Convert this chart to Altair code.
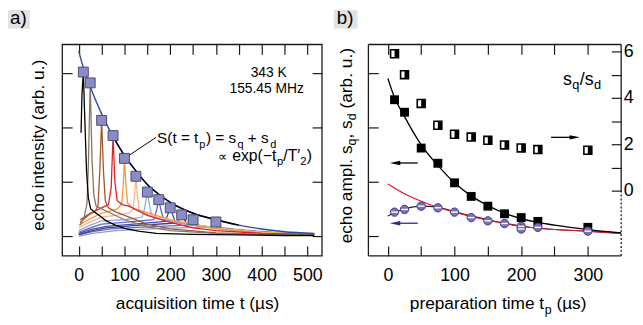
import altair as alt
import pandas as pd

FONT = "Liberation Sans"
W, H = 635, 309
OX, OY = 8, 8


def px(x):
    return x - OX


def py(y):
    return y - OY


# ---------------- panel a: echo curves ----------------
tp_a = [10, 25, 50, 75, 100, 125, 150, 175, 200, 225, 250, 300]
s_a = [3.02, 2.82, 2.13, 1.85, 1.43, 1.10, 0.81, 0.67, 0.52, 0.39, 0.30, 0.26]

fit_a_t = [0, 10, 25, 50, 75, 100, 125, 150, 175, 200, 250, 300, 350, 400, 450, 515]
fit_a_v = [3.40, 3.10, 2.75, 2.25, 1.83, 1.48, 1.20, 0.95, 0.77, 0.62, 0.42, 0.30, 0.20, 0.13, 0.08, 0.05]

echo10_t = [5, 7, 10, 13, 17, 21, 26, 35, 45, 60, 80, 100, 130, 170, 250, 350, 450, 515]
echo10_v = [1.9, 2.6, 3.02, 2.2, 1.2, 0.7, 0.5, 0.44, 0.38, 0.28, 0.2, 0.14, 0.09, 0.05, 0.03, 0.02, 0.01, 0.01]
echo25_t = [3, 12, 18, 21, 25, 29, 33, 38, 50, 70, 100, 150, 200, 300, 400, 515]
echo25_v = [0.20, 0.35, 0.6, 1.3, 2.82, 1.4, 0.75, 0.55, 0.5, 0.42, 0.3, 0.17, 0.1, 0.05, 0.03, 0.02]
echo50_t = [3, 20, 35, 42, 46, 50, 54, 58, 65, 80, 100, 150, 200, 300, 400, 515]
echo50_v = [0.25, 0.38, 0.45, 0.55, 1.2, 2.13, 1.2, 0.65, 0.52, 0.45, 0.38, 0.22, 0.13, 0.06, 0.03, 0.02]
echo75_t = [3, 25, 50, 65, 71, 75, 79, 84, 95, 110, 150, 200, 250, 300, 400, 515]
echo75_v = [0.30, 0.42, 0.52, 0.58, 0.9, 1.85, 1.0, 0.65, 0.58, 0.55, 0.38, 0.25, 0.15, 0.1, 0.05, 0.03]
echo100_t = [0, 25, 50, 85, 94, 97, 100, 103, 107, 120, 150, 200, 250, 300, 400, 515]
echo100_v = [0.2, 0.32, 0.42, 0.5, 0.6, 0.9, 1.43, 0.95, 0.6, 0.5, 0.43, 0.3, 0.2, 0.13, 0.06, 0.03]
echo125_t = [0, 25, 50, 80, 110, 119, 122, 125, 128, 132, 150, 200, 250, 300, 400, 515]
echo125_v = [0.15, 0.26, 0.35, 0.38, 0.42, 0.5, 0.75, 1.10, 0.75, 0.48, 0.4, 0.3, 0.22, 0.15, 0.07, 0.04]
echo150_t = [0, 25, 50, 100, 139, 145, 150, 155, 161, 200, 250, 300, 400, 515]
echo150_v = [0.1, 0.2, 0.28, 0.3, 0.35, 0.55, 0.81, 0.55, 0.35, 0.27, 0.2, 0.14, 0.07, 0.03]
echo175_t = [0, 25, 50, 100, 164, 170, 175, 180, 186, 225, 300, 400, 515]
echo175_v = [0.07, 0.15, 0.22, 0.25, 0.3, 0.47, 0.67, 0.47, 0.3, 0.24, 0.15, 0.07, 0.03]
echo200_t = [0, 25, 60, 120, 189, 195, 200, 205, 211, 250, 300, 400, 515]
echo200_v = [0.05, 0.12, 0.18, 0.22, 0.27, 0.4, 0.52, 0.4, 0.26, 0.2, 0.14, 0.07, 0.03]
echo225_t = [0, 30, 60, 120, 214, 220, 225, 230, 236, 300, 400, 515]
echo225_v = [0.03, 0.1, 0.15, 0.19, 0.24, 0.32, 0.39, 0.32, 0.23, 0.15, 0.07, 0.03]
echo250_t = [0, 30, 70, 150, 239, 245, 250, 255, 261, 320, 400, 515]
echo250_v = [0.02, 0.08, 0.13, 0.17, 0.2, 0.26, 0.30, 0.26, 0.19, 0.13, 0.07, 0.03]
echo300_t = [0, 30, 80, 180, 289, 295, 300, 305, 311, 350, 420, 515]
echo300_v = [0.0, 0.05, 0.1, 0.14, 0.17, 0.22, 0.26, 0.21, 0.16, 0.12, 0.07, 0.03]

echo_t = [echo10_t, echo25_t, echo50_t, echo75_t, echo100_t, echo125_t,
          echo150_t, echo175_t, echo200_t, echo225_t, echo250_t, echo300_t]
echo_v = [echo10_v, echo25_v, echo50_v, echo75_v, echo100_v, echo125_v,
          echo150_v, echo175_v, echo200_v, echo225_v, echo250_v, echo300_v]
echo_colors = ["#000000", "#8a7560", "#a0582e", "#e3202a", "#f29a3e", "#f6b888",
               "#9ea4da", "#5b6bbb", "#3f50a6", "#4b3c80", "#6070bd", "#8f9ad6"]

# ---------------- panel b ----------------
tp_b = [10, 25, 50, 75, 100, 125, 150, 175, 200, 225, 300]
sq_b = [2.51, 2.28, 1.62, 1.34, 0.98, 0.73, 0.55, 0.41, 0.34, 0.27, 0.16]
ratio_b = [5.9, 5.0, 3.76, 2.82, 2.43, 2.31, 2.17, 1.97, 1.84, 1.77, 1.74]
tp_d = [10, 25, 50, 75, 100, 125, 150, 175, 200, 200, 225, 300]
sd_b = [0.44, 0.49, 0.55, 0.52, 0.44, 0.34, 0.28, 0.23, 0.18, 0.13, 0.16, 0.09]

fit_q_t = [0, 10, 25, 50, 75, 100, 125, 150, 175, 200, 225, 250, 300, 350]
fit_q_v = [2.90, 2.55, 2.20, 1.68, 1.30, 0.98, 0.74, 0.56, 0.42, 0.32, 0.25, 0.20, 0.12, 0.06]
fit_d_t = [0, 10, 25, 50, 75, 100, 125, 150, 200, 250, 300, 350]
fit_d_v = [0.37, 0.43, 0.50, 0.55, 0.53, 0.45, 0.37, 0.30, 0.18, 0.12, 0.09, 0.05]
fit_r_t = [0, 25, 50, 75, 100, 125, 150, 175, 200, 250, 300, 350]
fit_r_v = [0.96, 0.78, 0.64, 0.53, 0.44, 0.36, 0.29, 0.23, 0.18, 0.12, 0.09, 0.05]

# ---------------- ticks ----------------
xa_ticks = [0, 50, 100, 150, 200, 250, 300, 350, 400, 450, 500]
xb_ticks = [0, 50, 100, 150, 200, 250, 300]
y_ticks = [0, 1, 2, 3]
r_ticks = [0, 1, 2, 3, 4, 5, 6]

xa_sc = alt.Scale(domain=[-36, 532], range=[px(63), px(326)], nice=False, zero=False)
ya_sc = alt.Scale(domain=[-0.364, 3.527], range=[py(257), py(43)], nice=False, zero=False)
xb_sc = alt.Scale(domain=[-29.2, 350], range=[px(373), px(629)], nice=False, zero=False)
yr_sc = alt.Scale(domain=[-2.81, 6.30], range=[py(257), py(43)], nice=False, zero=False)

TICK = 10


def axis(orient, offset, values, labels=False, label_expr=None, pad=0):
    kw = dict(orient=orient, offset=offset, values=values, domain=False, grid=False,
              title=None, ticks=True, tickSize=TICK, tickWidth=1.2, tickColor="#1a1a1a",
              labels=labels)
    if labels:
        kw.update(labelFont=FONT, labelFontSize=18, labelColor="black", labelPadding=pad,
                  labelOverlap=False, labelFlush=False, labelExpr=label_expr)
    return alt.Axis(**kw)


EVEN100 = "datum.value % 100 === 0 ? datum.label : ''"
ax_a_bottom = axis("bottom", py(257 - TICK) - H, xa_ticks, True, EVEN100, 11)
ax_a_top = axis("top", -py(43 + TICK), xa_ticks)
ax_a_left = axis("left", -px(63 + TICK), y_ticks)
ax_a_right = axis("right", px(326 - TICK) - W, y_ticks)
ax_b_bottom = axis("bottom", py(257 - TICK) - H, xb_ticks, True, EVEN100, 11)
ax_b_top = axis("top", -py(43 + TICK), xb_ticks)
ax_b_left = axis("left", -px(373 + TICK), y_ticks)
ax_b_right = axis("right", px(629 - TICK) - W, r_ticks, True,
                  "datum.value % 2 === 0 ? datum.label : ''", 2)

ONE = alt.Data(values=[{"k": 0}])


def T(s, x, y, size=17.5, align="left", angle=0, color="black"):
    return alt.Chart(ONE).mark_text(text=s, font=FONT, fontSize=size, align=align,
                                    baseline="alphabetic", angle=angle, color=color).encode(
        x=alt.value(px(x)), y=alt.value(py(y)))


def hline(x1, x2, y, color="#1a1a1a", width=1.3, dash=None):
    kw = dict(color=color, strokeWidth=width)
    if dash:
        kw["strokeDash"] = dash
    return alt.Chart(ONE).mark_rule(**kw).encode(
        x=alt.value(px(x1)), x2=alt.value(px(x2)), y=alt.value(py(y)))


def vline(x, y1, y2, color="#1a1a1a", width=1.3, dash=None):
    kw = dict(color=color, strokeWidth=width)
    if dash:
        kw["strokeDash"] = dash
    return alt.Chart(ONE).mark_rule(**kw).encode(
        x=alt.value(px(x)), y=alt.value(py(y1)), y2=alt.value(py(y2)))


def head(x, y, direction, color):
    path = "M-1,0L1,-0.42L1,0.42Z" if direction == "left" else "M1,0L-1,-0.42L-1,0.42Z"
    return alt.Chart(ONE).mark_point(shape=path, size=110, filled=True, color=color,
                                     opacity=1).encode(x=alt.value(px(x)), y=alt.value(py(y)))


def xy(xsc, ysc, xaxis=None, yaxis=None):
    return dict(x=alt.X("t:Q", scale=xsc, axis=xaxis), y=alt.Y("v:Q", scale=ysc, axis=yaxis))


layers = []

# panel label boxes
for x1, x2, lab in [(8, 30, "a)"), (338, 362, "b)")]:
    layers.append(alt.Chart(ONE).mark_rect(color="#e2e2e2").encode(
        x=alt.value(px(x1)), x2=alt.value(px(x2)), y=alt.value(py(8)), y2=alt.value(py(27))))
    layers.append(T(lab, x1 + 2 if x1 == 8 else x1 + 3, 22, size=19))

# ---- panel a ----
for tl, vl, col in reversed(list(zip(echo_t, echo_v, echo_colors))):
    df = pd.DataFrame({"t": tl, "v": vl})
    layers.append(alt.Chart(df).mark_line(color=col, strokeWidth=1.3).encode(**xy(xa_sc, ya_sc)))

fit_a = pd.DataFrame({"t": fit_a_t, "v": fit_a_v})
layers.append(alt.Chart(fit_a).mark_line(color="#2c4da0", strokeWidth=1.4, interpolate="monotone")
              .encode(**xy(xa_sc, ya_sc, ax_a_bottom, ax_a_left)))
layers.append(alt.Chart(fit_a).transform_filter("datum.t >= 75 && datum.t <= 350")
              .mark_line(color="black", strokeWidth=1.4, interpolate="monotone")
              .encode(**xy(xa_sc, ya_sc)))
sq_a = pd.DataFrame({"t": tp_a, "v": s_a})
layers.append(alt.Chart(sq_a).mark_square(size=100, fill="#8a8cc6", stroke="#4a4a72",
                                          strokeWidth=1, opacity=1)
              .encode(**xy(xa_sc, ya_sc, ax_a_top, ax_a_right)))

# leader line and annotation
layers.append(alt.Chart(ONE).mark_rule(color="black", strokeWidth=1).encode(
    x=alt.value(px(131)), y=alt.value(py(155)), x2=alt.value(px(158)), y2=alt.value(py(137))))
layers += [
    T("343 K", 272, 76, size=14, align="center"),
    T("155.45 MHz", 270, 92, size=14, align="center"),
    T("S(t = t", 159, 143, size=15.5),
    T("p", 201.8, 147.5, size=11),
    T(") = s", 208.4, 143, size=15.5),
    T("q", 240.5, 147.5, size=11),
    T("+ s", 250.9, 143, size=15.5),
    T("d", 273.5, 147.5, size=11),
    T("\u221d", 221, 161, size=13),
    T("exp(\u2212t", 235, 161, size=16),
    T("p", 280.4, 165.5, size=11.5),
    T("/T\u2032", 286.8, 161, size=16),
    T("2", 304.1, 165.5, size=11.5),
    T(")", 310.5, 161, size=16),
]

# ---- panel b ----
fit_d = pd.DataFrame({"t": fit_d_t, "v": fit_d_v})
fit_r = pd.DataFrame({"t": fit_r_t, "v": fit_r_v})
fit_q = pd.DataFrame({"t": fit_q_t, "v": fit_q_v})
layers.append(alt.Chart(fit_d).mark_line(color="#222222", strokeWidth=1.2, interpolate="monotone")
              .encode(**xy(xb_sc, ya_sc)))
layers.append(alt.Chart(fit_r).mark_line(color="#e5132c", strokeWidth=1.2, interpolate="monotone")
              .encode(**xy(xb_sc, ya_sc)))
layers.append(alt.Chart(fit_q).mark_line(color="black", strokeWidth=1.3, interpolate="monotone")
              .encode(**xy(xb_sc, ya_sc)))

sq_df = pd.DataFrame({"t": tp_b, "v": sq_b})
layers.append(alt.Chart(sq_df).mark_square(size=81, color="black", opacity=1)
              .encode(**xy(xb_sc, ya_sc, ax_b_bottom, ax_b_left)))

sd_df = pd.DataFrame({"t": tp_d, "v": sd_b})
layers.append(alt.Chart(sd_df).mark_circle(size=72, fill="#7b70b2", stroke="#4a3e86",
                                           strokeWidth=1, opacity=1)
              .encode(**xy(xb_sc, ya_sc)))
layers.append(alt.Chart(sd_df).mark_point(shape="M-0.8,0L0.8,0", size=72, filled=False,
                                          stroke="white", strokeWidth=1.4, opacity=1)
              .encode(**xy(xb_sc, ya_sc)))

ratio_df = pd.DataFrame({"t": tp_b, "v": ratio_b})
layers.append(alt.Chart(ratio_df).mark_square(size=64, fill="white", stroke="black",
                                              strokeWidth=1.6, opacity=1)
              .encode(**xy(xb_sc, yr_sc, ax_b_top, ax_b_right)))
layers.append(alt.Chart(ratio_df).mark_point(shape="M0,-1L1,-1L1,1L0,1Z", size=64, filled=True,
                                             color="black", opacity=1)
              .encode(**xy(xb_sc, yr_sc)))

# arrows
layers += [
    hline(400, 423, 163, color="black", width=1.3), head(400, 163, "left", "black"),
    hline(400, 423, 224, color="#3d1f8f", width=1.3), head(400, 224, "left", "#3d1f8f"),
    hline(558, 582, 137, color="black", width=1.3), head(582, 137, "right", "black"),
]

layers += [
    T("s", 570, 84, size=18),
    T("q", 579.5, 88.5, size=13),
    T("/s", 587, 84, size=18),
    T("d", 601.5, 88.5, size=13),
]

# ---- frames ----
layers.append(alt.Chart(ONE).mark_rect(fillOpacity=0, stroke="#1a1a1a", strokeWidth=1.3).encode(
    x=alt.value(px(63)), x2=alt.value(px(326)), y=alt.value(py(43)), y2=alt.value(py(257))))
layers += [
    hline(373, 629, 43), hline(373, 629, 257), vline(373, 43, 257),
    vline(629, 43, 191), vline(629, 191, 257, dash=[2, 2]),
]

# ---- axis titles ----
layers += [
    T("acquisition time t (\u00b5s)", 200, 311, align="center"),
    T("echo intensity (arb. u.)", 44.5, 145, align="center", angle=270),
    T("preparation time t", 551, 311, align="right"),
    T("p", 551.5, 315.5, size=12.5),
    T("(\u00b5s)", 563.4, 311),
    T("echo ampl. s", 356, 244.4, angle=270),
    T("q", 360, 145.2, size=12.5, angle=270),
    T(", s", 356, 138.2, angle=270),
    T("d", 360, 119.7, size=12.5, angle=270),
    T("(arb. u.)", 356, 107.8, angle=270),
]

chart = (
    alt.layer(*layers)
    .resolve_scale(x="independent", y="independent")
    .properties(width=W, height=H, autosize=alt.AutoSizeParams(type="none"), padding=0,
                background="white")
    .configure_view(stroke=None)
)

chart.save("out.html", embed_options={"renderer": "svg", "actions": False})
